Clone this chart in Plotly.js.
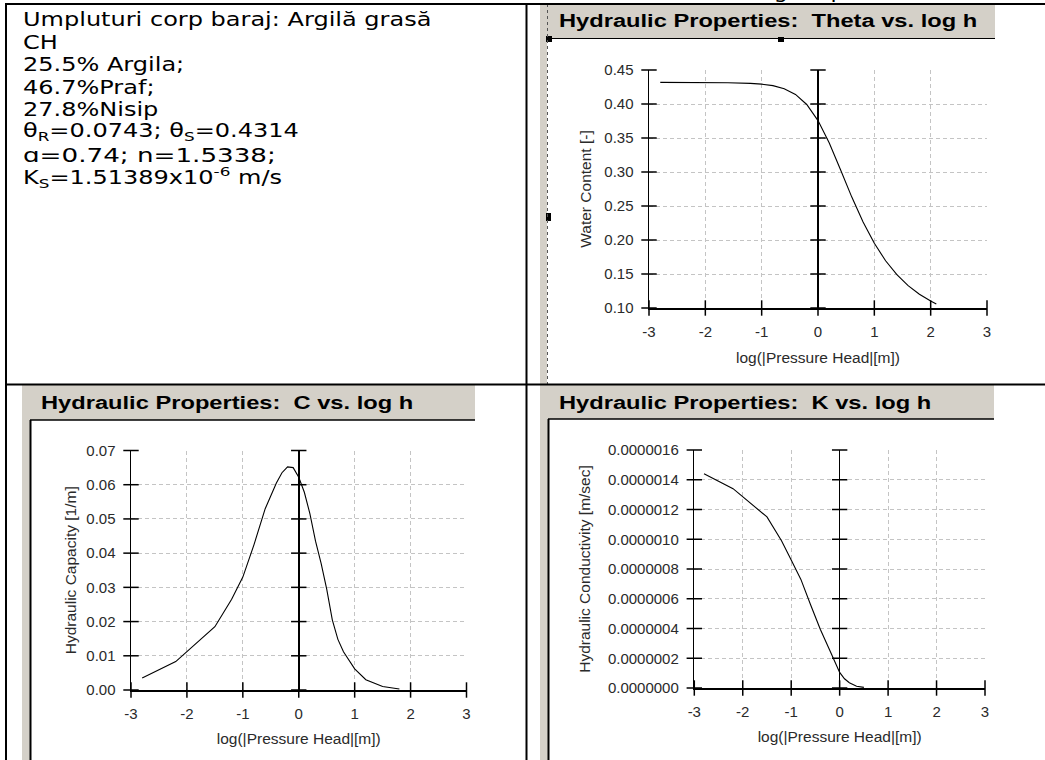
<!DOCTYPE html>
<html><head><meta charset="utf-8">
<script src="https://cdn.plot.ly/plotly-3.0.1.min.js"></script>
<style>html,body{margin:0;padding:0;background:#fff;overflow:hidden}</style>
</head><body>
<div id="chart" style="width:1045px;height:760px"></div>
<script>
// ---------------- data ----------------
const xTicks = [-3, -2, -1, 0, 1, 2, 3];
const xTickLabels = ['-3', '-2', '-1', '0', '1', '2', '3'];

const thetaX = [-2.8, -2.4, -2.0, -1.6, -1.2, -1.0, -0.8, -0.6, -0.4, -0.2, 0.0, 0.2, 0.4, 0.6, 0.8, 1.0, 1.2, 1.4, 1.6, 1.8, 2.0, 2.1];
const thetaY = [0.4318, 0.4317, 0.4316, 0.4313, 0.4303, 0.4292, 0.4270, 0.4225, 0.4141, 0.3993, 0.3756, 0.3425, 0.3032, 0.2631, 0.2264, 0.1951, 0.1695, 0.1491, 0.1329, 0.1202, 0.1102, 0.1060];
const thetaTicks = [0.10, 0.15, 0.20, 0.25, 0.30, 0.35, 0.40, 0.45];

const capX = [-2.8, -2.2, -1.5, -1.2, -1.0, -0.8, -0.6, -0.4, -0.3, -0.2, -0.1, 0.0, 0.1, 0.2, 0.3, 0.4, 0.5, 0.6, 0.7, 0.8, 1.0, 1.2, 1.5, 1.8];
const capY = [0.0035, 0.0083, 0.0185, 0.0265, 0.0330, 0.0425, 0.0530, 0.0605, 0.0635, 0.0652, 0.0650, 0.0622, 0.0578, 0.0515, 0.0435, 0.0370, 0.0295, 0.0205, 0.0148, 0.0112, 0.0062, 0.0030, 0.0010, 0.0003];
const capTicks = [0.00, 0.01, 0.02, 0.03, 0.04, 0.05, 0.06, 0.07];

const condX = [-2.8, -2.2, -1.5, -1.2, -1.0, -0.8, -0.6, -0.4, -0.2, 0.0, 0.1, 0.2, 0.35, 0.5];
const condY = [1.44e-6, 1.34e-6, 1.15e-6, 0.99e-6, 0.86e-6, 0.73e-6, 0.56e-6, 0.395e-6, 0.25e-6, 0.105e-6, 0.062e-6, 0.035e-6, 0.012e-6, 0.004e-6];
const condTicks = [0, 2e-7, 4e-7, 6e-7, 8e-7, 10e-7, 12e-7, 14e-7, 16e-7];

const panelTitles = ['Hydraulic Properties:  Theta vs. log h', 'Hydraulic Properties:  C vs. log h', 'Hydraulic Properties:  K vs. log h'];
const xTitle = 'log(|Pressure Head|[m])';
const yTitles = ['Water Content [-]', 'Hydraulic Capacity [1/m]', 'Hydraulic Conductivity [m/sec]'];
const infoLines = [
  'Umpluturi corp baraj: Argilă grasă',
  'CH',
  '25.5% Argila;',
  '46.7%Praf;',
  '27.8%Nisip',
  'θ<sub>R</sub>=0.0743; θ<sub>S</sub>=0.4314',
  'ɑ=0.74; n=1.5338;',
  'K<sub>S</sub>=1.51389x10<sup>-6</sup> m/s'
];
const headerText = 'Tabel 7.4 Parametrii curgerii prin medii nesaturate';

// ---------------- layout helpers ----------------
const W = 1045, H = 760;
const px = v => v / W;
const py = v => 1 - v / H;
const ARIAL = 'Liberation Sans, Arial, sans-serif';
const VERD = 'DejaVu Sans, Verdana, sans-serif';

const tickFont = {family: ARIAL, size: 15, color: '#2a2a2a'};
const titleFont = {family: ARIAL, size: 15.5, color: '#2a2a2a'};
const GRID = {showgrid: true, gridcolor: '#c4c4c4', griddash: '4px,3px', gridwidth: 1};

function xAxis(domain, anchor, standoff) {
  return Object.assign({
    domain: domain, anchor: anchor, range: [-3, 3], autorange: false,
    tickmode: 'array', tickvals: xTicks, ticktext: xTickLabels,
    zeroline: true, zerolinecolor: '#000', zerolinewidth: 1.5,
    showline: true, linecolor: '#000', linewidth: 1.5,
    ticks: '', ticklabelstandoff: 9, tickfont: tickFont,
    title: {text: xTitle, font: titleFont, standoff: standoff},
    fixedrange: true
  }, GRID);
}
function yAxis(domain, anchor, range, ticks, fmt, title, standoff) {
  return Object.assign({
    domain: domain, anchor: anchor, range: range, autorange: false,
    tickmode: 'array', tickvals: ticks, tickformat: fmt,
    zeroline: false, showline: true, linecolor: '#000', linewidth: 1.5,
    ticks: '', ticklabelstandoff: 11, tickfont: tickFont,
    title: {text: title, font: titleFont, standoff: standoff},
    fixedrange: true
  }, GRID);
}

// crossing tick marks, built from the tick arrays
function tickTraces(xa, ya, yTickVals, yMin) {
  const mk = sym => ({symbol: sym, size: 11, color: '#000', line: {color: '#000', width: 1.5}});
  return [
    {x: xTicks, y: xTicks.map(() => yMin), xaxis: xa, yaxis: ya, type: 'scatter', mode: 'markers',
     marker: mk('line-ns'), cliponaxis: false, hoverinfo: 'skip', showlegend: false},
    {x: yTickVals.map(() => xTicks[0]).concat(yTickVals.map(() => 0)),
     y: yTickVals.concat(yTickVals), xaxis: xa, yaxis: ya, type: 'scatter', mode: 'markers',
     marker: mk('line-ew'), cliponaxis: false, hoverinfo: 'skip', showlegend: false}
  ];
}
const curveLine = {color: '#000', width: 1.1};

const data = [
  {x: thetaX, y: thetaY, xaxis: 'x', yaxis: 'y', type: 'scatter', mode: 'lines', line: curveLine, showlegend: false, cliponaxis: false},
  ...tickTraces('x', 'y', thetaTicks, thetaTicks[0]),
  {x: capX, y: capY, xaxis: 'x2', yaxis: 'y2', type: 'scatter', mode: 'lines', line: curveLine, showlegend: false, cliponaxis: false},
  ...tickTraces('x2', 'y2', capTicks, capTicks[0]),
  {x: condX, y: condY, xaxis: 'x3', yaxis: 'y3', type: 'scatter', mode: 'lines', line: curveLine, showlegend: false, cliponaxis: false},
  ...tickTraces('x3', 'y3', condTicks, condTicks[0])
];

// ---------------- decorations (table + chart frames) ----------------
function hline(x0, x1, y, w, c, dash) {
  return {type: 'line', xref: 'paper', yref: 'paper', x0: px(x0), x1: px(x1), y0: py(y), y1: py(y),
          line: {color: c || '#000', width: w, dash: dash || 'solid'}};
}
function vline(x, y0, y1, w, c, dash) {
  return {type: 'line', xref: 'paper', yref: 'paper', x0: px(x), x1: px(x), y0: py(y0), y1: py(y1),
          line: {color: c || '#000', width: w, dash: dash || 'solid'}};
}
function rect(x0, y0, x1, y1, fill) {
  return {type: 'rect', xref: 'paper', yref: 'paper', x0: px(x0), x1: px(x1), y0: py(y1), y1: py(y0),
          fillcolor: fill, line: {width: 0}, layer: 'below'};
}
const GRAY = '#d4d0c8';
const shapes = [
  // theta panel
  rect(540, 4, 995, 38, GRAY),
  rect(540, 38, 547, 384, GRAY),
  hline(549, 995, 38.5, 1.2),
  vline(547.5, 4, 384, 1, '#555', 'dot'),
  rect(546, 36, 552, 42, '#000'),
  rect(778, 37, 784, 42, '#000'),
  rect(546, 213, 551, 221, '#000'),
  // C panel
  rect(22, 385, 475, 420, GRAY),
  rect(22, 420, 30, 760, GRAY),
  hline(30, 475, 420, 1.5),
  vline(30.5, 420, 760, 2),
  // K panel
  rect(540, 385, 994, 419, GRAY),
  rect(540, 419, 548, 760, GRAY),
  hline(548, 994, 419, 1.5),
  vline(548.5, 419, 760, 2),
  // table borders
  hline(5, 1045, 4, 2),
  vline(6, 4, 760, 2),
  vline(526.5, 4, 760, 2),
  hline(5, 1045, 384.5, 2)
];

// annotations; "stretch" = horizontal widening of the glyphs as in the reference document
const annotations = [];
const stretch = [];
const lineStretch = [1.285, 1.285, 1.285, 1.285, 1.285, 1.285, 1.4, 1.285];
infoLines.forEach((t, i) => {
  annotations.push({text: t, xref: 'paper', yref: 'paper', x: px(21), y: py(19.5 + 22.6 * i),
    xanchor: 'left', yanchor: 'middle', showarrow: false, align: 'left',
    font: {family: VERD, size: 18.7, color: '#000'}});
  stretch.push(lineStretch[i]);
});
const titlePos = [[557, 20.5], [39, 402], [557, 402]];
panelTitles.forEach((t, i) => {
  annotations.push({text: '<b>' + t + '</b>', xref: 'paper', yref: 'paper', x: px(titlePos[i][0]), y: py(titlePos[i][1]),
    xanchor: 'left', yanchor: 'middle', showarrow: false, align: 'left',
    font: {family: ARIAL, size: 18.8, color: '#000'}});
  stretch.push(1.26);
});
annotations.push({text: headerText, xref: 'paper', yref: 'paper', x: px(505), y: py(4), xanchor: 'left', yanchor: 'bottom',
  showarrow: false, align: 'left', font: {family: VERD, size: 18.7, color: '#000'}});
stretch.push(1.2);

const layout = {
  width: W, height: H, autosize: false,
  margin: {l: 0, r: 0, t: 0, b: 0, pad: 0},
  paper_bgcolor: '#fff', plot_bgcolor: '#fff',
  showlegend: false,
  xaxis: xAxis([px(649), px(987)], 'y', 13),
  yaxis: yAxis([py(308), py(70)], 'x', [0.10, 0.45], thetaTicks, '.2f', yTitles[0], 9),
  xaxis2: xAxis([px(131), px(466.5)], 'y2', 12),
  yaxis2: yAxis([py(690), py(450.5)], 'x2', [0, 0.07], capTicks, '.2f', yTitles[1], 6),
  xaxis3: xAxis([px(694.3), px(985)], 'y3', 12),
  yaxis3: yAxis([py(688), py(450)], 'x3', [0, 1.6e-6], condTicks, '.7f', yTitles[2], 13),
  shapes: shapes,
  annotations: annotations
};

Plotly.newPlot('chart', data, layout, {displayModeBar: false, staticPlot: true}).then(gd => {
  gd.querySelectorAll('g.annotation').forEach(g => {
    const idx = +g.getAttribute('data-index');
    const t = g.querySelector('text.annotation-text');
    if (!t || !stretch[idx]) return;
    const len = t.getComputedTextLength();
    if (len > 0) {
      t.setAttribute('textLength', (len * stretch[idx]).toFixed(1));
      t.setAttribute('lengthAdjust', 'spacingAndGlyphs');
    }
  });
});
</script>
</body></html>
